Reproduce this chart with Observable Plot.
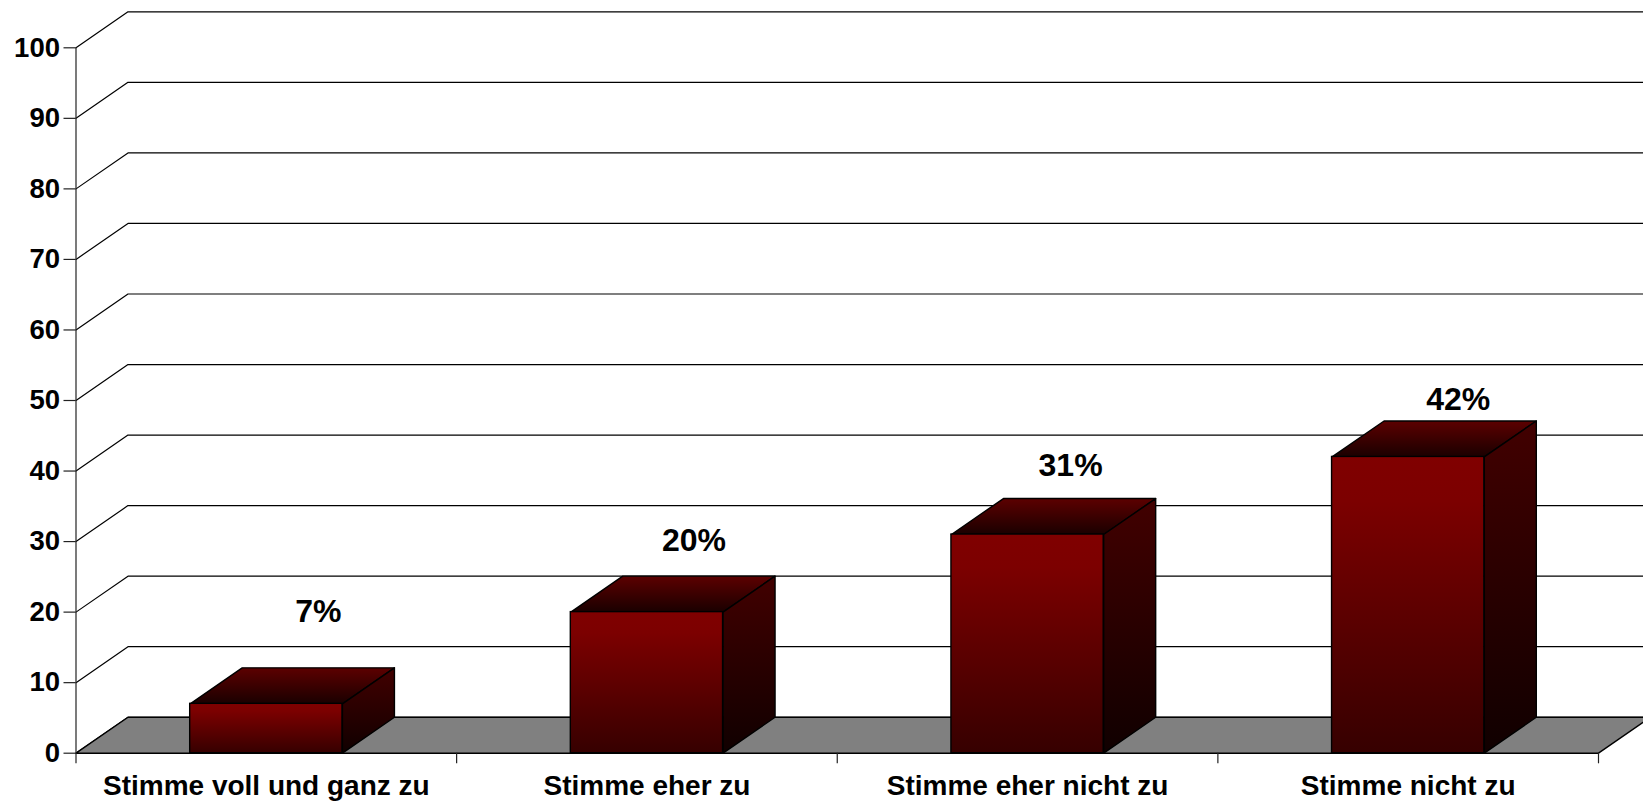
<!DOCTYPE html>
<html lang="de">
<head>
<meta charset="utf-8">
<style>
  html, body { margin: 0; padding: 0; background: #fff; overflow: hidden; }
  svg { display: block; }
</style>
<script src="https://cdn.jsdelivr.net/npm/d3@7"></script>
<script src="https://cdn.jsdelivr.net/npm/@observablehq/plot@0.6"></script>
</head>
<body>
<div id="chart"></div>
<script>
// Survey answers and their shares in percent
const categories = ["Stimme voll und ganz zu", "Stimme eher zu", "Stimme eher nicht zu", "Stimme nicht zu"];
const shares = [7, 20, 31, 42];
const yTicks = [0, 10, 20, 30, 40, 50, 60, 70, 80, 90, 100];
const categoryEdges = [0, 1, 2, 3, 4];

// Oblique projection: depth of the box expressed in scale units
const depthX = 0.1366;
const depthY = 5.1;
const barStart = 0.3;
const barEnd = 0.7;

// Hand-placed offsets of the value labels, in pixels
const labelNudgeX = [0, -5, -9, -2];
const labelNudgeY = [-56, -35, -33, -21];

const font = "'Liberation Sans', Arial, sans-serif";
const boxes = categories.map((category, i) => ({category, i, value: shares[i]}));

// Closed outline of a face, tagged with its bar
const outline = (d, corners) => corners.map(([x, y]) => ({bar: d.i, x, y}));

const topFaces = boxes.flatMap((d) => {
  const x0 = d.i + barStart, x1 = d.i + barEnd, v = d.value;
  return outline(d, [[x0, v], [x1, v], [x1 + depthX, v + depthY], [x0 + depthX, v + depthY], [x0, v]]);
});
const sideFaces = boxes.flatMap((d) => {
  const x1 = d.i + barEnd, v = d.value;
  return outline(d, [[x1, 0], [x1, v], [x1 + depthX, v + depthY], [x1 + depthX, depthY], [x1, 0]]);
});

// Back-wall gridlines: up the side wall, then along the back
const xEnd = categoryEdges[categoryEdges.length - 1];
const wallLines = yTicks.flatMap((t) => [
  {t, x: 0, y: t},
  {t, x: depthX, y: t + depthY},
  {t, x: xEnd + depthX, y: t + depthY}
]);
const floor = [[0, 0], [xEnd, 0], [xEnd + depthX, depthY], [depthX, depthY], [0, 0]].map(([x, y]) => ({x, y}));

// Vertical colour ramps for the three visible faces of a box
function gradients() {
  const defs = d3.create("svg:defs");
  const ramps = {
    frontFace: [[0, "#800000"], [0.15, "#7c0000"], [1, "#360000"]],
    topFace: [[0, "#5c0000"], [1, "#1a0000"]],
    sideFace: [[0, "#420000"], [1, "#100000"]]
  };
  for (const [id, stops] of Object.entries(ramps)) {
    const g = defs.append("linearGradient").attr("id", id).attr("x1", 0).attr("y1", 0).attr("x2", 0).attr("y2", 1);
    for (const [offset, color] of stops) g.append("stop").attr("offset", offset).attr("stop-color", color);
  }
  return defs.node();
}

const chart = Plot.plot({
  width: 1643,
  height: 803,
  marginLeft: 75.5,
  marginRight: 45,
  marginTop: 47.3,
  marginBottom: 50.3,
  style: {background: "#fff", fontFamily: font},
  x: {domain: [0, xEnd], axis: null},
  y: {domain: [0, 100], axis: null},
  marks: [
    gradients,
    Plot.line(wallLines, {x: "x", y: "y", z: "t", stroke: "#000", strokeWidth: 1.2}),
    Plot.line(floor, {x: "x", y: "y", fill: "#808080", stroke: "#000", strokeWidth: 1.4}),

    // Axes
    Plot.ruleX([0], {y1: 0, y2: 100, stroke: "#222", strokeWidth: 1.2}),
    Plot.axisY({
      ticks: yTicks, tickSize: 12, tickPadding: 4, stroke: "#222",
      fontSize: 27.5, fontWeight: 700, fill: "#000", label: null,
      strokeWidth: 1.2
    }),
    Plot.axisX({
      ticks: categoryEdges, tickSize: 10.6, tickFormat: () => "", stroke: "#222",
      strokeWidth: 1.2, label: null
    }),
    Plot.axisX({
      ticks: categories.map((_, i) => i + 0.5), tickSize: 0, tickPadding: 22,
      tickFormat: (t) => categories[t - 0.5], fontSize: 28, fontWeight: 700, fill: "#000", label: null
    }),

    // Boxes
    Plot.line(topFaces, {x: "x", y: "y", z: "bar", fill: "url(#topFace)", stroke: "#000", strokeWidth: 1.4}),
    Plot.line(sideFaces, {x: "x", y: "y", z: "bar", fill: "url(#sideFace)", stroke: "#000", strokeWidth: 1.4}),
    Plot.rect(boxes, {
      x1: (d) => d.i + barStart, x2: (d) => d.i + barEnd, y1: 0, y2: "value",
      fill: "url(#frontFace)", stroke: "#000", strokeWidth: 1.4
    }),

    // Value labels sit above the box, each with its own offset
    ...boxes.map((d) => Plot.text([d], {
      x: d.i + (barStart + barEnd) / 2 + depthX,
      y: d.value + depthY,
      text: (e) => `${e.value}%`,
      dx: labelNudgeX[d.i],
      dy: labelNudgeY[d.i],
      fontSize: 32,
      fontWeight: 700,
      fill: "#000",
      lineAnchor: "middle"
    }))
  ]
});

document.getElementById("chart").append(chart);
</script>
</body>
</html>
